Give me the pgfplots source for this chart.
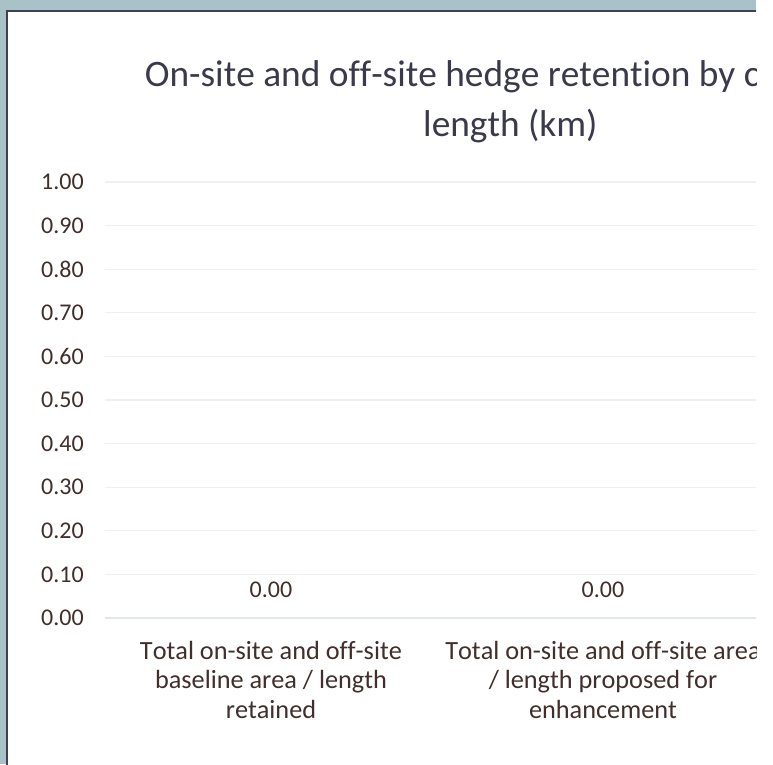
\documentclass[border=0pt]{standalone}
\usepackage{pgfplots}
\pgfplotsset{compat=1.18}
\usepackage{fontspec}
\setmainfont{Carlito}[Kerning=Off, Ligatures=NoCommon]

\definecolor{frameblue}{RGB}{169,193,199}
\definecolor{framedark}{RGB}{64,64,80}
\definecolor{titlec}{RGB}{58,58,76}
\definecolor{labelc}{RGB}{64,47,42}
\definecolor{gridc}{RGB}{237,241,241}
\definecolor{axisc}{RGB}{226,232,232}

\pgfplotsset{/pgf/number format/assume math mode=true}

\begin{document}
\begin{tikzpicture}
% 1 px of the reference = 0.75pt, picture is 773 x 764 px
\useasboundingbox (0,0) rectangle (579.75pt,573pt);
\fill[white] (0,0) rectangle (579.75pt,573pt);
\clip (0,0) rectangle (567pt,573pt);
\fill[frameblue] (0,0) rectangle (567pt,573pt);
\fill[white] (5.25pt,-5pt) rectangle (580pt,564.75pt);
\draw[framedark, line width=1.5pt] (5.25pt,-5pt) -- (5.25pt,564.75pt) -- (580pt,564.75pt);
\begin{axis}[
    at={(78.75pt,109.5pt)}, anchor=south west,
    scale only axis,
    width=747pt, height=327pt,
    ybar, bar width=120pt,
    xmin=-0.5, xmax=2.5,
    ymin=0, ymax=1,
    axis x line*=bottom,
    axis y line*=left,
    y axis line style={draw=none},
    x axis line style={draw=axisc, line width=1.1pt},
    xtick={0,1},
    xticklabels={{Total on-site and off-site\\baseline area / length\\retained},
                 {Total on-site and off-site area\\/ length proposed for\\enhancement}},
    major x tick style={draw=none},
    extra x ticks={-0.5,0.5,1.5,2.5},
    extra x tick labels={},
    extra x tick style={tick align=outside, major tick length=5.25pt,
                        major tick style={draw=axisc, line width=1.1pt}},
    ytick={0,0.1,0.2,0.3,0.4,0.5,0.6,0.7,0.8,0.9,1},
    ytick style={draw=none},
    ymajorgrids,
    major grid style={draw=gridc, line width=1pt},
    yticklabel style={/pgf/number format/fixed, /pgf/number format/fixed zerofill,
                      /pgf/number format/precision=2},
    y tick label style={anchor=east, inner sep=0pt, xshift=-15.75pt,
                        font=\fontsize{18}{21}\selectfont, text=labelc},
    x tick label style={anchor=north, inner sep=0pt, yshift=-12.75pt, align=center,
                        font=\fontsize{19.7}{22.1}\selectfont, text=labelc},
    title={On-site and off-site hedge retention by category\\length (km)},
    title style={at={(axis description cs:0.407,1)}, anchor=south, inner sep=0pt,
                 yshift=23.25pt, align=center,
                 font=\fontsize{28}{37.5}\selectfont, text=titlec},
    nodes near coords={\pgfmathprintnumber[fixed,fixed zerofill,precision=2]{\pgfplotspointmeta}},
    every node near coord/.append style={anchor=center, yshift=21pt,
                        font=\fontsize{18}{21}\selectfont, text=labelc},
]
\addplot[fill=none, draw=none] coordinates {(0,0) (1,0)};
\end{axis}
\end{tikzpicture}
\end{document}
